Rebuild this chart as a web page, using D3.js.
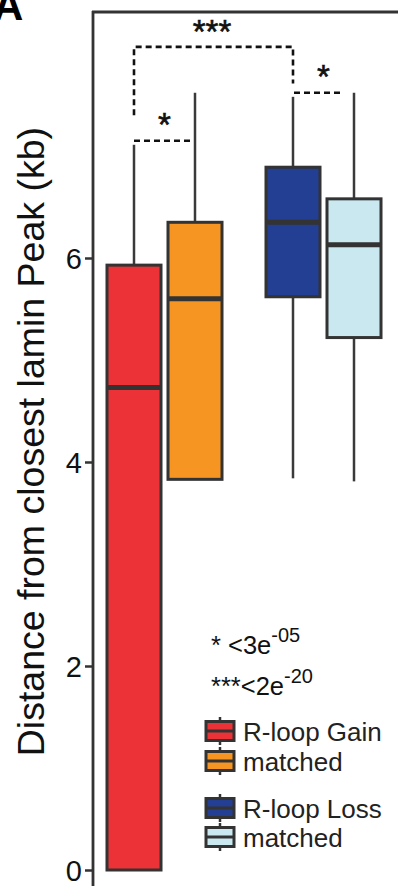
<!DOCTYPE html>
<html>
<head>
<meta charset="utf-8">
<script src="https://cdn.jsdelivr.net/npm/d3@7"></script>
<style>
html,body{margin:0;padding:0;background:#fff;}
svg{display:block;font-family:"Liberation Sans",Arial,Helvetica,sans-serif;}
</style>
</head>
<body>
<svg id="chart" width="398" height="886"></svg>
<script>
// ---- data ----
const categories = ["R-loop Gain", "matched", "R-loop Loss", "matched"];
const groups = ["Gain", "Gain", "Loss", "Loss"];
const roles = ["sample", "matched", "sample", "matched"];
const whiskerLow = [0.00, 3.83, 3.84, 3.81];
const q1Values = [0.00, 3.83, 5.62, 5.22];
const medianValues = [4.73, 5.60, 6.35, 6.13];
const q3Values = [5.93, 6.35, 6.89, 6.58];
const whiskerHigh = [7.11, 7.62, 7.58, 7.62];
const colors = ["#EC3237", "#F69522", "#233F94", "#C9E8EF"];
const yTicks = [0, 2, 4, 6];
const yLabel = "Distance from closest lamin Peak (kb)";
const pvalLines = [["* <3e", "-05"], ["***<2e", "-20"]];
// significance brackets
const brackets = [
  {a: 0, b: 2, level: 8.07, leftEnd: 7.40, rightEnd: 7.71, label: "***"},
  {a: 0, b: 1, level: 7.15, leftEnd: 7.15, rightEnd: 7.15, label: "*"},
  {a: 2, b: 3, level: 7.62, leftEnd: 7.62, rightEnd: 7.62, label: "*"}
];

const svg = d3.select("#chart");
const dark = "#333333";

// ---- scales ----
const y = d3.scaleLinear().domain([0, 8]).range([870, 54]);
const xGroup = d3.scalePoint().domain(["Gain", "Loss"]).range([164.5, 323.5]);
const xRole = d3.scalePoint().domain(["sample", "matched"]).range([-30.5, 30.5]);
const cx = i => xGroup(groups[i]) + xRole(roles[i]);
const boxW = 54;

// ---- panel letter ----
svg.append("text").attr("x", -7).attr("y", 20)
  .attr("font-size", 42).attr("font-weight", "bold").text("A");

// ---- axis ----
const axis = d3.axisLeft(y).tickValues(yTicks).tickFormat(d3.format("d"))
  .tickSizeInner(8).tickSizeOuter(0).tickPadding(3);
const gAxis = svg.append("g").attr("transform", "translate(93,0)").call(axis);
gAxis.select(".domain").remove();
gAxis.selectAll(".tick line").attr("stroke", dark).attr("stroke-width", 2.5);
gAxis.selectAll(".tick text").attr("font-size", 29).attr("fill", "#111")
  .attr("font-family", "'Liberation Sans',Arial,sans-serif").attr("dy", "0.36em");
// left axis line & top frame
svg.append("line").attr("x1", 93).attr("x2", 93).attr("y1", 11).attr("y2", 886)
  .attr("stroke", dark).attr("stroke-width", 2.8);
svg.append("line").attr("x1", 92).attr("x2", 400).attr("y1", 12).attr("y2", 12)
  .attr("stroke", dark).attr("stroke-width", 2.8);

// y label
svg.append("text")
  .attr("transform", `translate(44,${y(4.2)}) rotate(-90)`)
  .attr("text-anchor", "middle").attr("font-size", 37.5).attr("fill", "#111")
  .text(yLabel);

// ---- boxes ----
const idx = d3.range(categories.length);
const g = svg.append("g");
idx.forEach(i => {
  const x = cx(i);
  if (whiskerHigh[i] > q3Values[i])
    g.append("line").attr("x1", x).attr("x2", x)
      .attr("y1", y(q3Values[i])).attr("y2", y(whiskerHigh[i]))
      .attr("stroke", "#3a3a3a").attr("stroke-width", 2.5);
  if (whiskerLow[i] < q1Values[i])
    g.append("line").attr("x1", x).attr("x2", x)
      .attr("y1", y(q1Values[i])).attr("y2", y(whiskerLow[i]))
      .attr("stroke", "#3a3a3a").attr("stroke-width", 2.5);
  g.append("rect").attr("x", x - boxW / 2).attr("width", boxW)
    .attr("y", y(q3Values[i])).attr("height", y(q1Values[i]) - y(q3Values[i]))
    .attr("fill", colors[i]).attr("stroke", dark).attr("stroke-width", 3);
  g.append("line").attr("x1", x - boxW / 2).attr("x2", x + boxW / 2)
    .attr("y1", y(medianValues[i])).attr("y2", y(medianValues[i]))
    .attr("stroke", dark).attr("stroke-width", 5);
});

// ---- significance brackets ----
brackets.forEach((b, k) => {
  const xa = cx(b.a), xb = cx(b.b);
  let path;
  if (k === 0) {
    path = `M${xa},${y(b.leftEnd)}V${y(b.level)}H${xb}V${y(b.rightEnd)}`;
  } else {
    path = `M${xa + (k === 2 ? 1 : 0)},${y(b.level)}H${xb - (k === 2 ? 12 : 5)}`;
  }
  svg.append("path").attr("d", path).attr("fill", "none")
    .attr("stroke", "#111").attr("stroke-width", 2.6)
    .attr("stroke-dasharray", "6,4");
  const tx = (xa + xb) / 2;
  svg.append("text").attr("x", k === 0 ? 212 : tx)
    .attr("y", y(b.level) - 1)
    .attr("text-anchor", "middle").attr("font-size", 33).attr("fill", "#111")
    .attr("stroke", "#111").attr("stroke-width", 0.6)
    .attr("dy", "-0.1em")
    .text(b.label);
});

// ---- p-value notes ----
pvalLines.forEach((p, k) => {
  const t = svg.append("text").attr("x", 211).attr("y", 654 + k * 41)
    .attr("font-size", 25.5).attr("fill", "#111");
  t.append("tspan").text(p[0]);
  t.append("tspan").attr("font-size", 20).attr("dy", -12).text(p[1]);
});

// ---- legend ----
const legendY = [731, 761, 808, 837];
idx.forEach(i => {
  const ly = legendY[i], lx = 220;
  const lg = svg.append("g");
  lg.append("line").attr("x1", lx).attr("x2", lx).attr("y1", ly - 14).attr("y2", ly + 14)
    .attr("stroke", dark).attr("stroke-width", 2.5);
  lg.append("rect").attr("x", lx - 14).attr("y", ly - 9.5).attr("width", 28).attr("height", 19)
    .attr("fill", colors[i]).attr("stroke", dark).attr("stroke-width", 3);
  lg.append("line").attr("x1", lx - 14).attr("x2", lx + 14).attr("y1", ly).attr("y2", ly)
    .attr("stroke", dark).attr("stroke-width", 3);
  lg.append("text").attr("x", 243).attr("y", ly + 9.5)
    .attr("font-size", 26).attr("fill", "#222").text(categories[i]);
});
</script>
</body>
</html>
